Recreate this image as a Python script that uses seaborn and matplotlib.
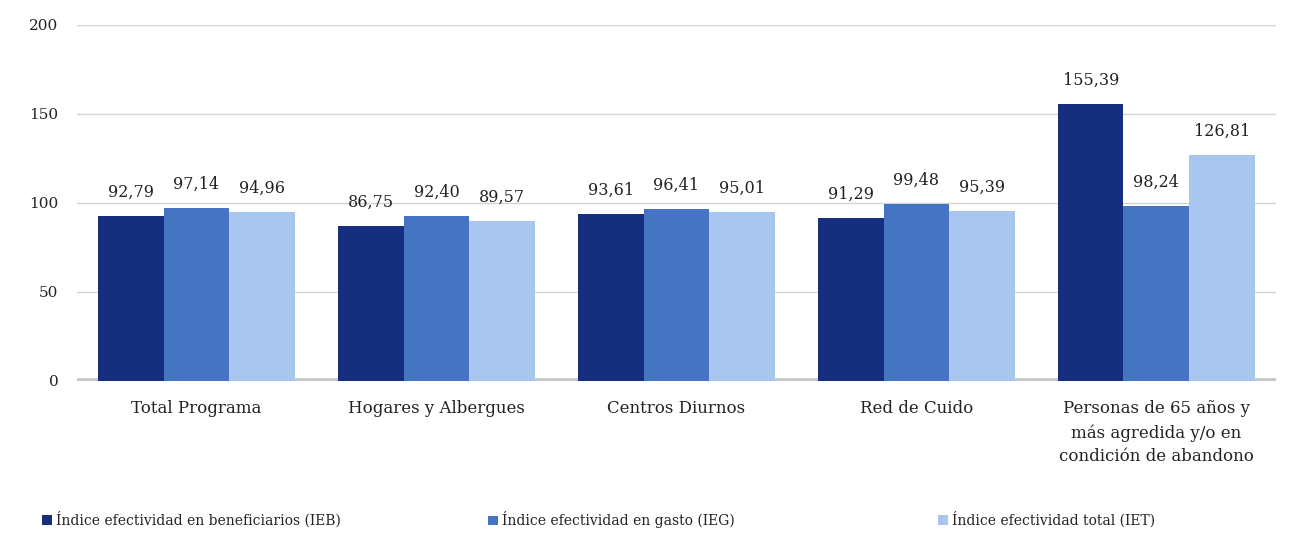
import matplotlib
matplotlib.use("Agg")
import matplotlib.pyplot as plt
import seaborn as sns
import pandas as pd

categorias = ["Total Programa", "Hogares y Albergues", "Centros Diurnos", "Red de Cuido",
              "Personas de 65 años y\nmás agredida y/o en\ncondición de abandono"]
series = ["Índice efectividad en beneficiarios (IEB)",
          "Índice efectividad en gasto (IEG)",
          "Índice efectividad total (IET)"]
ieb = [92.79, 86.75, 93.61, 91.29, 155.39]
ieg = [97.14, 92.40, 96.41, 99.48, 98.24]
iet = [94.96, 89.57, 95.01, 95.39, 126.81]
colores = ["#152F7E", "#4474C2", "#A8C6EE"]

df = pd.DataFrame({
    "categoria": categorias * 3,
    "serie": [series[0]] * 5 + [series[1]] * 5 + [series[2]] * 5,
    "valor": ieb + ieg + iet,
})

sns.set_theme(style="white")
plt.rcParams["font.family"] = ["DejaVu Serif"]

fig = plt.figure(figsize=(12.97, 5.52), dpi=100)
ax = fig.add_axes([0.059, 0.31, 0.925, 0.645])

sns.barplot(data=df, x="categoria", y="valor", hue="serie", palette=colores,
            width=0.82, saturation=1, linewidth=0, ax=ax, legend=True)

for cont in ax.containers:
    etiquetas = [f"{b.get_height():.2f}".replace(".", ",") for b in cont]
    ax.bar_label(cont, labels=etiquetas, padding=11, fontsize=11.5, color="#222222")

ax.set_ylim(0, 200)
ax.set_yticks([0, 50, 100, 150, 200])
ax.set_xlim(-0.5, 4.5)
ax.grid(axis="y", color="#d4d4d4", linewidth=1)
ax.set_axisbelow(True)
for s in ax.spines.values():
    s.set_visible(False)
ax.axhline(0, color="#c4c4c4", linewidth=4, zorder=0)
ax.set_xlabel("")
ax.set_ylabel("")
ax.tick_params(axis="y", length=0, pad=13, labelsize=11, labelcolor="#222222")
ax.tick_params(axis="x", length=0, pad=14, labelsize=12, labelcolor="#222222")
for t in ax.get_xticklabels():
    t.set_verticalalignment("top")
    t.set_multialignment("center")
    t.set_linespacing(1.5)

# una leyenda por serie, repartidas a lo ancho como en el original
handles, labels = ax.get_legend_handles_labels()
ax.get_legend().remove()
for h, l, xpos in zip(handles, labels, [0.028, 0.372, 0.719]):
    fig.legend([h], [l], loc="center left", bbox_to_anchor=(xpos, 0.058),
               frameon=False, fontsize=10, handlelength=0.7, handleheight=0.7,
               handletextpad=0.3, borderaxespad=0, labelcolor="#222222")

fig.savefig("out.png", dpi=100)
